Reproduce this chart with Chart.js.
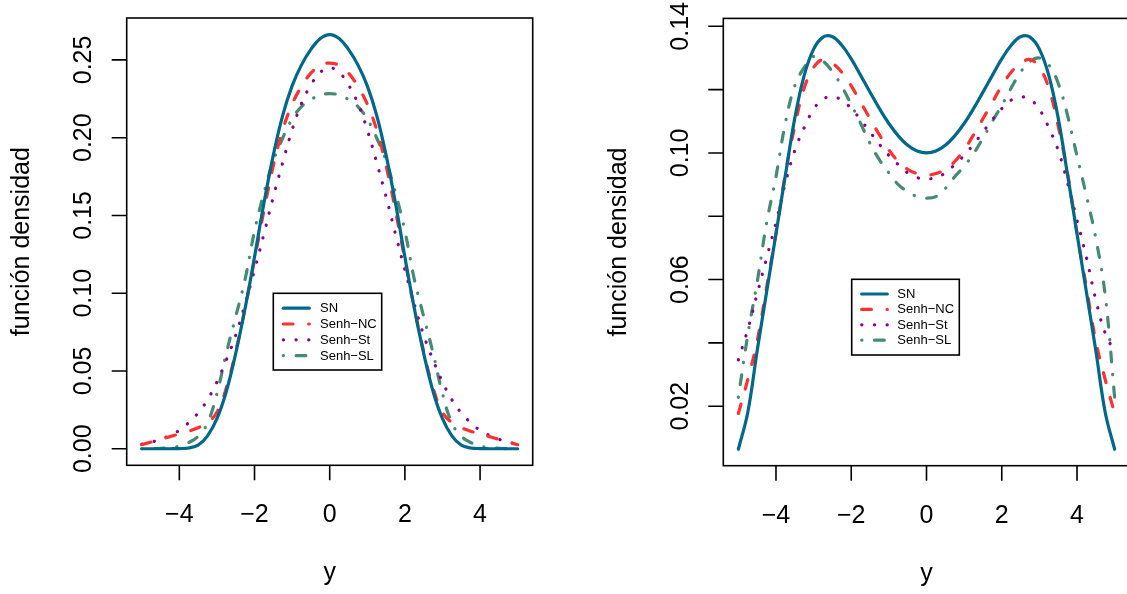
<!DOCTYPE html>
<html lang="es">
<head>
<meta charset="utf-8">
<title>función densidad</title>
<script src="https://cdn.jsdelivr.net/npm/chart.js@4.4.1/dist/chart.umd.min.js"></script>
<style>
    html, body { margin: 0; padding: 0; background: #fff; overflow: hidden; width: 1127px; height: 594px; }
    .panel { position: absolute; top: 0; height: 594px; }
    #left-panel { left: 0; width: 563px; }
    #right-panel { left: 563px; width: 570px; }
</style>
</head>
<body>
<div class="panel" id="left-panel"><canvas id="leftChart" width="563" height="594"></canvas></div>
<div class="panel" id="right-panel"><canvas id="rightChart" width="570" height="594"></canvas></div>
<script>
// y grid shared by every curve
const yGrid = [-5, -4.75, -4.5, -4.25, -4, -3.75, -3.5, -3.25, -3, -2.75, -2.5, -2.25, -2, -1.75, -1.5, -1.25, -1, -0.75, -0.5, -0.25,
    0, 0.25, 0.5, 0.75, 1, 1.25, 1.5, 1.75, 2, 2.25, 2.5, 2.75, 3, 3.25, 3.5, 3.75, 4, 4.25, 4.5, 4.75, 5];

const seriesNames = ['SN', 'Senh\u2212NC', 'Senh\u2212St', 'Senh\u2212SL'];

// left panel densities
const leftSN = [0, 0, 0, 0, 0.0001, 0.0005, 0.0023, 0.0083, 0.0193, 0.0368, 0.0613, 0.0903, 0.1233, 0.1578, 0.1888, 0.2143, 0.2333, 0.2468, 0.2568, 0.2638,
    0.2663, 0.2638, 0.2568, 0.2468, 0.2333, 0.2143, 0.1888, 0.1578, 0.1233, 0.0903, 0.0613, 0.0368, 0.0193, 0.0083, 0.0023, 0.0005, 0.0001, 0, 0, 0, 0];
const leftNC = [0.0026, 0.0043, 0.0060, 0.0078, 0.0095, 0.0113, 0.0135, 0.0168, 0.0235, 0.0390, 0.0625, 0.0905, 0.1215, 0.1530, 0.1820, 0.2050, 0.2215, 0.2330, 0.2415, 0.2465,
    0.2480, 0.2465, 0.2415, 0.2330, 0.2215, 0.2050, 0.1820, 0.1530, 0.1215, 0.0905, 0.0625, 0.0390, 0.0235, 0.0168, 0.0135, 0.0113, 0.0095, 0.0078, 0.0060, 0.0043, 0.0026];
const leftSt = [0.0029, 0.0042, 0.0061, 0.0086, 0.0118, 0.0168, 0.0230, 0.0315, 0.0429, 0.0570, 0.0730, 0.0930, 0.1150, 0.1380, 0.1620, 0.1840, 0.2050, 0.2220, 0.2340, 0.2420,
    0.2450, 0.2420, 0.2340, 0.2220, 0.2050, 0.1840, 0.1620, 0.1380, 0.1150, 0.0930, 0.0730, 0.0570, 0.0429, 0.0315, 0.0230, 0.0168, 0.0118, 0.0086, 0.0061, 0.0042, 0.0029];
const leftSL = [0, 0.0001, 0.0003, 0.0007, 0.0017, 0.0040, 0.0080, 0.0165, 0.0355, 0.0615, 0.0850, 0.1090, 0.1400, 0.1645, 0.1850, 0.1998, 0.2120, 0.2200, 0.2245, 0.2275,
    0.2283, 0.2275, 0.2245, 0.2200, 0.2120, 0.1998, 0.1850, 0.1645, 0.1400, 0.1090, 0.0850, 0.0615, 0.0355, 0.0165, 0.0080, 0.0040, 0.0017, 0.0007, 0.0003, 0.0001, 0];

// right panel densities
const rightSN = [0.0064, 0.0180, 0.0375, 0.0560, 0.0745, 0.0930, 0.1110, 0.1245, 0.1328, 0.1366, 0.1367, 0.1340, 0.1297, 0.1245, 0.1192, 0.1140, 0.1093, 0.1054, 0.1024, 0.1006,
    0.1000, 0.1006, 0.1024, 0.1054, 0.1093, 0.1140, 0.1192, 0.1245, 0.1297, 0.1340, 0.1367, 0.1366, 0.1328, 0.1245, 0.1110, 0.0930, 0.0745, 0.0560, 0.0375, 0.0180, 0.0064];
const rightNC = [0.0177, 0.0284, 0.0405, 0.0575, 0.0745, 0.0935, 0.1085, 0.1205, 0.1270, 0.1295, 0.1283, 0.1255, 0.1212, 0.1160, 0.1108, 0.1057, 0.1010, 0.0973, 0.0948, 0.0935,
    0.0930, 0.0935, 0.0948, 0.0973, 0.1010, 0.1057, 0.1108, 0.1160, 0.1212, 0.1255, 0.1283, 0.1295, 0.1270, 0.1205, 0.1085, 0.0935, 0.0745, 0.0575, 0.0405, 0.0284, 0.0177];
const rightSt = [0.0346, 0.0442, 0.0555, 0.0668, 0.0780, 0.0905, 0.1008, 0.1080, 0.1138, 0.1170, 0.1177, 0.1167, 0.1140, 0.1105, 0.1066, 0.1027, 0.0992, 0.0963, 0.0937, 0.0922,
    0.0918, 0.0922, 0.0937, 0.0963, 0.0992, 0.1027, 0.1066, 0.1105, 0.1140, 0.1167, 0.1177, 0.1170, 0.1138, 0.1080, 0.1008, 0.0905, 0.0787, 0.0670, 0.0535, 0.0430, 0.0372];
const rightSL = [0.0228, 0.0425, 0.0592, 0.0778, 0.0925, 0.1095, 0.1212, 0.1270, 0.1305, 0.1290, 0.1257, 0.1210, 0.1153, 0.1093, 0.1030, 0.0978, 0.0937, 0.0900, 0.0878, 0.0862,
    0.0857, 0.0862, 0.0888, 0.0925, 0.0958, 0.0998, 0.1047, 0.1100, 0.1150, 0.1205, 0.1255, 0.1289, 0.1300, 0.1278, 0.1220, 0.1118, 0.0990, 0.0865, 0.0730, 0.0550, 0.0227];

// axis ticks
const xTickValues = [-4, -2, 0, 2, 4];
const xTickLabels = ['\u22124', '\u22122', '0', '2', '4'];
const leftYTickValues = [0, 0.05, 0.10, 0.15, 0.20, 0.25];
const leftYTickLabels = ['0.00', '0.05', '0.10', '0.15', '0.20', '0.25'];
const rightYTickValues = [0.02, 0.04, 0.06, 0.08, 0.10, 0.12, 0.14];
const rightYTickLabels = ['0.02', '', '0.06', '', '0.10', '', '0.14'];

const xTitle = 'y';
const yTitle = 'función densidad';

const FONT = '"Liberation Sans", Arial, Helvetica, sans-serif';
const colors = ['#00688B', '#FF3030', '#8B008B', '#458B74'];
const dashes = [[], [9.7, 15.7], [0.2, 12.5], [0.2, 12.6, 9.8, 12.6]];

function buildDatasets(seriesList) {
    return seriesList.map((values, i) => ({
        label: seriesNames[i],
        data: yGrid.map((x, k) => ({ x: x, y: values[k] })),
        borderColor: colors[i],
        borderWidth: 3.2,
        borderDash: dashes[i],
        borderCapStyle: 'round',
        borderJoinStyle: 'round',
        pointRadius: 0,
        fill: false,
        tension: 0.4
    }));
}

// R-style box, axes, titles and legend drawn through the chart scales
const rAxesPlugin = {
    id: 'rAxes',
    afterDraw(chart, args, opts) {
        const ctx = chart.ctx;
        const a = chart.chartArea;
        const xs = chart.scales.x;
        const ys = chart.scales.y;
        ctx.save();
        ctx.strokeStyle = '#000';
        ctx.fillStyle = '#000';
        ctx.lineWidth = 1.6;
        ctx.strokeRect(a.left, a.top, a.right - a.left, a.bottom - a.top);

        // x axis
        ctx.beginPath();
        xTickValues.forEach(v => {
            const px = xs.getPixelForValue(v);
            ctx.moveTo(px, a.bottom);
            ctx.lineTo(px, a.bottom + 15);
        });
        ctx.stroke();
        ctx.font = '25px ' + FONT;
        ctx.textAlign = 'center';
        ctx.textBaseline = 'alphabetic';
        xTickValues.forEach((v, i) => {
            ctx.fillText(xTickLabels[i], xs.getPixelForValue(v), a.bottom + 57);
        });
        ctx.fillText(xTitle, (a.left + a.right) / 2, a.bottom + 115);

        // y axis
        ctx.beginPath();
        opts.yTicks.forEach(v => {
            const py = ys.getPixelForValue(v);
            ctx.moveTo(a.left, py);
            ctx.lineTo(a.left - 15, py);
        });
        ctx.stroke();
        opts.yTicks.forEach((v, i) => {
            if (!opts.yLabels[i]) return;
            ctx.save();
            ctx.translate(a.left - 35.5, ys.getPixelForValue(v));
            ctx.rotate(-Math.PI / 2);
            ctx.fillText(opts.yLabels[i], 0, 0);
            ctx.restore();
        });
        ctx.save();
        ctx.translate(a.left - 97.5, (a.top + a.bottom) / 2);
        ctx.rotate(-Math.PI / 2);
        ctx.fillText(yTitle, 0, 0);
        ctx.restore();

        // legend
        const lg = opts.legend;
        ctx.lineWidth = 1.6;
        ctx.strokeRect(lg.left, lg.top, lg.width, lg.height);
        ctx.font = '13px ' + FONT;
        ctx.textAlign = 'left';
        ctx.textBaseline = 'middle';
        chart.data.datasets.forEach((ds, i) => {
            const cy = lg.firstRow + i * lg.rowGap;
            ctx.save();
            ctx.strokeStyle = ds.borderColor;
            ctx.lineWidth = ds.borderWidth;
            ctx.lineCap = 'round';
            ctx.setLineDash(ds.borderDash);
            ctx.beginPath();
            ctx.moveTo(lg.lineStart, cy);
            ctx.lineTo(lg.lineEnd, cy);
            ctx.stroke();
            ctx.restore();
            ctx.fillText(ds.label, lg.textX, cy + 0.5);
        });
        ctx.restore();
    }
};

function makeChart(canvasId, seriesList, yMin, yMax, padding, axesOpts) {
    const canvas = document.getElementById(canvasId);
    if (!canvas) {
        console.error('Error: canvas not found: ' + canvasId);
        return;
    }
    new Chart(canvas, {
        type: 'line',
        data: { datasets: buildDatasets(seriesList) },
        options: {
            responsive: false,
            animation: false,
            layout: { padding: padding },
            plugins: {
                legend: { display: false },
                tooltip: { enabled: false },
                rAxes: axesOpts
            },
            scales: {
                x: { type: 'linear', min: -5.4, max: 5.4, display: false },
                y: { type: 'linear', min: yMin, max: yMax, display: false }
            }
        },
        plugins: [rAxesPlugin]
    });
}

function renderCharts() {
    makeChart('leftChart', [leftSN, leftNC, leftSt, leftSL], -0.01065, 0.27695,
        { left: 126.7, right: 30.3, top: 18, bottom: 128.7 },
        {
            yTicks: leftYTickValues, yLabels: leftYTickLabels,
            legend: { left: 273.3, top: 293.3, width: 108.4, height: 76.7, lineStart: 283.3, lineEnd: 309.3, textX: 320, firstRow: 308.2, rowGap: 15.8 }
        });
    makeChart('rightChart', [rightSN, rightNC, rightSt, rightSL], 0.0012, 0.1425,
        { left: 160.3, right: 3.3, top: 18.4, bottom: 128.3 },
        {
            yTicks: rightYTickValues, yLabels: rightYTickLabels,
            legend: { left: 288.7, top: 279.3, width: 107.6, height: 75.7, lineStart: 298.7, lineEnd: 324.3, textX: 334.3, firstRow: 294, rowGap: 15.4 }
        });
}

document.addEventListener('DOMContentLoaded', () => {
    renderCharts();
});
</script>
</body>
</html>
